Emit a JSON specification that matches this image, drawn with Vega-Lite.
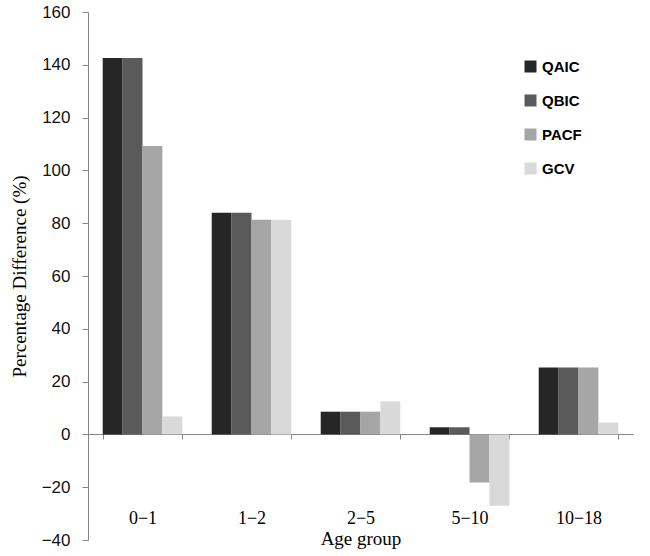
{
  "$schema": "https://vega.github.io/schema/vega-lite/v6.json",
  "width": 545,
  "height": 528,
  "autosize": {"type": "none"},
  "padding": {"left": 88, "top": 12, "right": 17, "bottom": 16},
  "background": "white",
  "config": {"view": {"stroke": null}},
  "data": {"values": [
    {"age": "0−1", "method": "QAIC", "value": 142.6},
    {"age": "0−1", "method": "QBIC", "value": 142.6},
    {"age": "0−1", "method": "PACF", "value": 109.2},
    {"age": "0−1", "method": "GCV", "value": 6.8},
    {"age": "1−2", "method": "QAIC", "value": 84.0},
    {"age": "1−2", "method": "QBIC", "value": 84.0},
    {"age": "1−2", "method": "PACF", "value": 81.3},
    {"age": "1−2", "method": "GCV", "value": 81.3},
    {"age": "2−5", "method": "QAIC", "value": 8.6},
    {"age": "2−5", "method": "QBIC", "value": 8.6},
    {"age": "2−5", "method": "PACF", "value": 8.6},
    {"age": "2−5", "method": "GCV", "value": 12.5},
    {"age": "5−10", "method": "QAIC", "value": 2.7},
    {"age": "5−10", "method": "QBIC", "value": 2.7},
    {"age": "5−10", "method": "PACF", "value": -18.2},
    {"age": "5−10", "method": "GCV", "value": -27.0},
    {"age": "10−18", "method": "QAIC", "value": 25.3},
    {"age": "10−18", "method": "QBIC", "value": 25.3},
    {"age": "10−18", "method": "PACF", "value": 25.3},
    {"age": "10−18", "method": "GCV", "value": 4.5}
  ]},
  "mark": {"type": "bar"},
  "encoding": {
    "x": {
      "field": "age", "type": "nominal", "sort": null,
      "scale": {"paddingInner": 0.27, "paddingOuter": 0.135},
      "axis": {
        "title": "Age group", "titleFont": "Liberation Serif", "titleFontSize": 19, "titleFontWeight": "normal", "titleColor": "#000",
        "labelFont": "Liberation Serif", "labelFontSize": 18, "labelColor": "#000", "labelAngle": 0,
        "offset": -106, "domainColor": "#868686", "tickColor": "#868686", "tickSize": 5, "tickBand": "extent",
        "labelPadding": 70, "titlePadding": 2
      }
    },
    "xOffset": {"field": "method", "type": "nominal", "sort": ["QAIC", "QBIC", "PACF", "GCV"], "scale": {"paddingInner": 0}},
    "y": {
      "field": "value", "type": "quantitative",
      "scale": {"domain": [-40, 160], "nice": false},
      "axis": {
        "title": "Percentage Difference (%)", "titleFont": "Liberation Serif", "titleFontSize": 19, "titleFontWeight": "normal", "titleColor": "#000", "titlePadding": 12,
        "values": [-40, -20, 0, 20, 40, 60, 80, 100, 120, 140, 160],
        "labelFont": "Liberation Sans", "labelFontSize": 17, "labelColor": "#111",
        "grid": false, "domainColor": "#868686", "tickColor": "#868686", "tickSize": 6, "labelPadding": 12
      }
    },
    "color": {
      "field": "method", "type": "nominal", "sort": ["QAIC", "QBIC", "PACF", "GCV"],
      "scale": {"domain": ["QAIC", "QBIC", "PACF", "GCV"], "range": ["#262626", "#5a5a5a", "#a6a6a6", "#d9d9d9"]},
      "legend": {
        "title": null, "orient": "none", "legendX": 435, "legendY": 47,
        "symbolType": "square", "symbolSize": 144, "symbolStrokeWidth": 0,
        "labelFont": "Liberation Sans", "labelFontSize": 15, "labelFontWeight": "bold", "labelColor": "#000",
        "rowPadding": 18, "labelOffset": 4
      }
    }
  }
}
